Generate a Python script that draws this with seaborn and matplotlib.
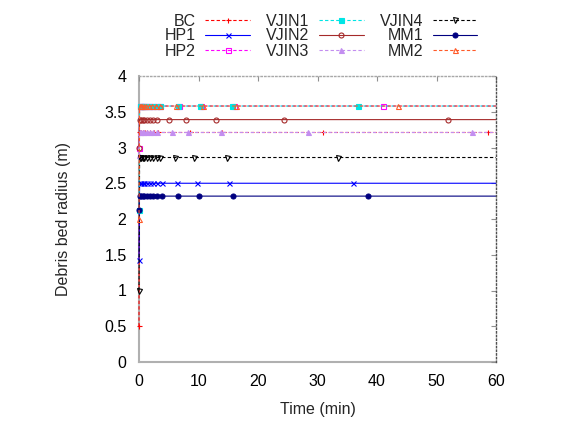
import numpy as np
import pandas as pd
import matplotlib
matplotlib.use("Agg")
import matplotlib.pyplot as plt
import seaborn as sns

# time (min) / radius (m), last point only closes the line at 60 min
t_bc = [0, 0.05, 0.2, 0.4, 0.7, 1.0, 1.4, 1.9, 2.5, 3.2, 8.6, 14.0, 31.0, 58.7, 60]
r_bc = [0.5, 3.21, 3.21, 3.21, 3.21, 3.21, 3.21, 3.21, 3.21, 3.21, 3.21, 3.21, 3.21, 3.21, 3.21]

t_hp1 = [0, 0.1, 0.3, 0.6, 0.9, 1.3, 1.8, 2.4, 3.0, 3.8, 6.4, 9.7, 15.1, 36.0, 60]
r_hp1 = [1.43, 2.50, 2.50, 2.50, 2.50, 2.50, 2.50, 2.50, 2.50, 2.50, 2.50, 2.50, 2.50, 2.50, 2.50]

t_hp2 = [0, 0.1, 0.3, 0.6, 0.9, 1.3, 1.8, 2.4, 3.0, 3.6, 6.8, 10.4, 16.0, 41.0, 60]
r_hp2 = [3.0, 3.58, 3.58, 3.58, 3.58, 3.58, 3.58, 3.58, 3.58, 3.58, 3.58, 3.58, 3.58, 3.58, 3.58]

t_vj1 = [0, 0.1, 0.3, 0.5, 0.8, 1.2, 1.7, 2.2, 2.8, 3.5, 6.5, 10.2, 15.6, 36.8, 60]
r_vj1 = [2.13, 3.58, 3.58, 3.58, 3.58, 3.58, 3.58, 3.58, 3.58, 3.58, 3.58, 3.58, 3.58, 3.58, 3.58]

t_vj2 = [0, 0.1, 0.3, 0.6, 0.9, 1.3, 1.8, 2.4, 3.1, 5.0, 7.9, 12.9, 24.4, 51.9, 60]
r_vj2 = [3.0, 3.39, 3.39, 3.39, 3.39, 3.39, 3.39, 3.39, 3.39, 3.39, 3.39, 3.39, 3.39, 3.39, 3.39]

t_vj3 = [0, 0.1, 0.3, 0.6, 0.9, 1.3, 1.8, 2.4, 3.1, 5.5, 8.3, 13.8, 28.4, 56.0, 60]
r_vj3 = [2.9, 3.21, 3.21, 3.21, 3.21, 3.21, 3.21, 3.21, 3.21, 3.21, 3.21, 3.21, 3.21, 3.21, 3.21]

t_vj4 = [0, 0.1, 0.3, 0.6, 0.9, 1.3, 1.8, 2.4, 3.0, 3.6, 6.1, 9.2, 14.8, 33.5, 60]
r_vj4 = [1.0, 2.86, 2.86, 2.86, 2.86, 2.86, 2.86, 2.86, 2.86, 2.86, 2.86, 2.86, 2.86, 2.86, 2.86]

t_mm1 = [0, 0.1, 0.3, 0.6, 0.9, 1.3, 1.8, 2.4, 3.0, 3.8, 6.6, 10.0, 15.8, 38.5, 60]
r_mm1 = [2.13, 2.32, 2.32, 2.32, 2.32, 2.32, 2.32, 2.32, 2.32, 2.32, 2.32, 2.32, 2.32, 2.32, 2.32]

t_mm2 = [0, 0.1, 0.3, 0.5, 0.8, 1.2, 1.7, 2.2, 2.8, 3.5, 6.3, 10.7, 16.3, 43.5, 60]
r_mm2 = [2.0, 3.58, 3.58, 3.58, 3.58, 3.58, 3.58, 3.58, 3.58, 3.58, 3.58, 3.58, 3.58, 3.58, 3.58]

names = ["BC", "HP1", "HP2", "VJIN1", "VJIN2", "VJIN3", "VJIN4", "MM1", "MM2"]
times = [t_bc, t_hp1, t_hp2, t_vj1, t_vj2, t_vj3, t_vj4, t_mm1, t_mm2]
radii = [r_bc, r_hp1, r_hp2, r_vj1, r_vj2, r_vj3, r_vj4, r_mm1, r_mm2]

colors = ["#ff0000", "#0000ff", "#ff00ff", "#00e5e5", "#a52a2a",
          "#c38ef0", "#000000", "#000080", "#ff5a28"]
markers = ["+", "x", "s", "s", "o", "^", "v", "o", "^"]
filled = [True, True, False, True, False, True, False, True, False]
dashed = [True, False, True, True, False, True, True, False, True]

sns.set_theme(style="white")
plt.rcParams["font.family"] = ["Liberation Sans", "DejaVu Sans"]

fig = plt.figure(figsize=(5.65, 4.37), dpi=100)
ax = fig.add_axes([139 / 565, 1 - 362 / 437, 357 / 565, 286 / 437])

for name, t, r, c, m, f, d in zip(names, times, radii, colors, markers, filled, dashed):
    df = pd.DataFrame({"t": t, "r": r})
    sns.lineplot(data=df, x="t", y="r", ax=ax, color=c, lw=0.8,
                 estimator=None, sort=False, label=name,
                 marker=m, markersize=3.6, markeredgewidth=0.8,
                 markerfacecolor=c if f else "none", markeredgecolor=c,
                 markevery=slice(0, len(t) - 1),
                 linestyle=(0, (3, 2)) if d else "-", clip_on=False)

ax.set_xlim(0, 60)
ax.set_ylim(0, 4)
ax.set_xticks(np.arange(0, 61, 10))
ax.set_yticks(np.arange(0, 4.01, 0.5))
ax.set_yticklabels(["0", "0.5", "1", "1.5", "2", "2.5", "3", "3.5", "4"])
ax.tick_params(direction="in", length=3.5, width=0.8, color="#909090",
               top=True, right=True, labelsize=11.5, labelcolor="black", pad=9)
ax.set_xlabel("Time (min)", fontsize=11.5, labelpad=9)
ax.set_ylabel("Debris bed radius (m)", fontsize=11.5, labelpad=24)

for side in ["left", "bottom"]:
    ax.spines[side].set_color("#b0b0b0")
    ax.spines[side].set_linewidth(1.5)
    ax.spines[side].set_zorder(0.5)
ax.spines["top"].set_color("#a8a8a8")
ax.spines["top"].set_linestyle(":")
ax.spines["top"].set_linewidth(1.0)
ax.spines["right"].set_color("#505050")
ax.spines["right"].set_linestyle(":")
ax.spines["right"].set_linewidth(1.0)

ax.legend(loc="center", bbox_to_anchor=(321 / 565, 1 - 36 / 437),
          bbox_transform=fig.transFigure, ncol=3, frameon=False,
          markerfirst=False, fontsize=11.5, handlelength=2.8,
          handletextpad=0.6, columnspacing=1.0, labelspacing=0.0,
          borderpad=0, borderaxespad=0)

fig.savefig("out.png", dpi=100)
